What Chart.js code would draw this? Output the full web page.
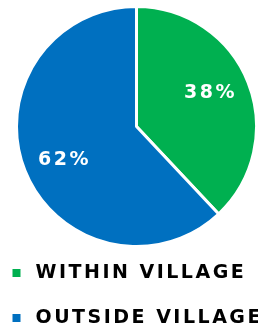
<!DOCTYPE html>
<html>
<head>
<meta charset="utf-8">
<script src="https://cdn.jsdelivr.net/npm/chart.js@4"></script>
<style>
  html, body { margin: 0; padding: 0; background: #fff; }
  #wrap { width: 258px; height: 329px; }
</style>
</head>
<body>
<div id="wrap"><canvas id="pieChart"></canvas></div>
<script>
const categories = ["WITHIN VILLAGE", "OUTSIDE VILLAGE"];
const shares = [38, 62];
const sliceColors = ["#00b050", "#0070c0"];

const FONT = "DejaVu Sans";

// wider lettering, closer to the heavy geometric font of the original
const spacing = {
  id: "spacing",
  beforeUpdate(chart) { chart.ctx.letterSpacing = "2.5px"; },
  beforeDraw(chart) { chart.ctx.letterSpacing = "2.5px"; },
};

// the pie sits a bit right of the page centre in the original
const shiftPie = {
  id: "shiftPie",
  afterLayout(chart) {
    const area = chart.chartArea;
    area.left = 15;
    area.right = 258;
    area.width = 243;
  },
};

// percentage text inside each slice
const sliceLabels = {
  id: "sliceLabels",
  afterDatasetsDraw(chart) {
    const ctx = chart.ctx;
    const meta = chart.getDatasetMeta(0);
    ctx.save();
    ctx.fillStyle = "#fff";
    ctx.font = "bold 19px '" + FONT + "'";
    ctx.textAlign = "center";
    ctx.textBaseline = "middle";
    meta.data.forEach((arc, i) => {
      const { x, y, startAngle, endAngle, outerRadius } = arc.getProps(
        ["x", "y", "startAngle", "endAngle", "outerRadius"], true
      );
      const mid = (startAngle + endAngle) / 2 - 0.055;
      const r = outerRadius * 0.67;
      ctx.fillText(shares[i] + "%", x + Math.cos(mid) * r + 1, y + Math.sin(mid) * r);
    });
    ctx.restore();
  },
};

const ctx = document.getElementById("pieChart").getContext("2d");
new Chart(ctx, {
  type: "pie",
  data: {
    labels: categories,
    datasets: [
      {
        data: shares,
        backgroundColor: sliceColors,
        borderColor: "#fff",
        borderWidth: 3,
        radius: 120,
      },
    ],
  },
  options: {
    responsive: true,
    maintainAspectRatio: false,
    animation: false,
    layout: { padding: { top: 15.5, left: -19, right: 0, bottom: 0 } },
    plugins: {
      tooltip: { enabled: false },
      legend: {
        position: "bottom",
        align: "start",
        maxHeight: 91.5,
        labels: {
          usePointStyle: true,
          pointStyle: "rect",
          boxWidth: 19,
          boxHeight: 8,
          padding: 26,
          color: "#000",
          font: { family: FONT, size: 19, weight: "bold" },
          // no white outline round the legend squares
          generateLabels: chart =>
            Chart.overrides.pie.plugins.legend.labels
              .generateLabels(chart)
              .map(item => ({ ...item, lineWidth: 0 })),
        },
      },
    },
  },
  plugins: [spacing, shiftPie, sliceLabels],
});
</script>
</body>
</html>
